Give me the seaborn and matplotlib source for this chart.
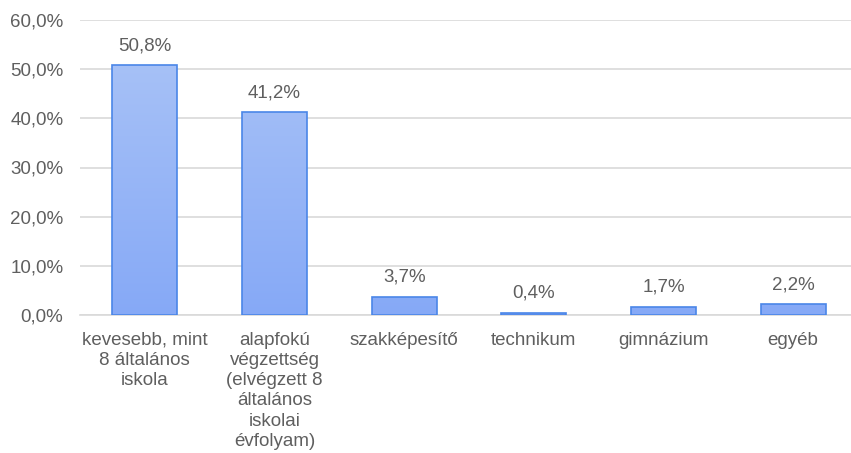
import numpy as np
import pandas as pd
import matplotlib
matplotlib.use("Agg")
import matplotlib.pyplot as plt
import seaborn as sns

# ==========================================================
# Data
# ==========================================================

categories = [
    "kevesebb, mint\n8 általános\niskola",
    "alapfokú\nvégzettség\n(elvégzett 8\náltalános\niskolai\névfolyam)",
    "szakképesítő",
    "technikum",
    "gimnázium",
    "egyéb",
]
values = [50.8, 41.2, 3.7, 0.4, 1.7, 2.2]
y_ticks = [0, 10, 20, 30, 40, 50, 60]

df = pd.DataFrame({"cat": categories, "val": values})

# ==========================================================
# Style
# ==========================================================

sns.set_theme(style="white")
plt.rcParams["font.family"] = ["Liberation Sans", "DejaVu Sans"]

text_color = "#5f5f5f"
grid_color = "#d9d9d9"
edge_color = "#4a86e8"
font_size = 13.5

fig = plt.figure(figsize=(8.51, 4.53), dpi=100)
ax = fig.add_axes([80 / 851, 138 / 453, 778 / 851, 295 / 453])

sns.barplot(
    data=df,
    x="cat",
    y="val",
    width=0.5,
    color="#9bb8f7",
    edgecolor=edge_color,
    linewidth=1.2,
    ax=ax,
    zorder=3,
)

# gradient fill in the bars
grad = np.linspace(0, 1, 256).reshape(-1, 1)
cmap = matplotlib.colors.LinearSegmentedColormap.from_list(
    "bar_grad", ["#86a9f6", "#acc5f7"]
)
for p in ax.patches:
    x0 = p.get_x()
    w = p.get_width()
    im = ax.imshow(
        grad,
        cmap=cmap,
        aspect="auto",
        origin="lower",
        extent=[x0, x0 + w, 0, 60],
        zorder=3.5,
    )
    im.set_clip_path(p)
    p.set_facecolor("none")
    p.set_zorder(4)

ax.set_xlim(-0.5, len(categories) - 0.5)
ax.set_ylim(0, 60)
ax.set_yticks(y_ticks)
ax.set_yticklabels([f"{t:.1f}%".replace(".", ",") for t in y_ticks])

ax.yaxis.grid(True, color=grid_color, linewidth=1.2, zorder=0)
ax.xaxis.grid(False)
for s in ["top", "right", "left"]:
    ax.spines[s].set_visible(False)
ax.spines["bottom"].set_color(grid_color)
ax.spines["bottom"].set_linewidth(1.2)

ax.tick_params(axis="both", length=0, labelsize=font_size, labelcolor=text_color)
ax.tick_params(axis="y", pad=12)
ax.tick_params(axis="x", pad=12)
for lbl in ax.get_xticklabels():
    lbl.set_linespacing(1.25)

ax.set_xlabel("")
ax.set_ylabel("")

for i, v in enumerate(values):
    ax.annotate(
        f"{v:.1f}%".replace(".", ","),
        (i, v),
        xytext=(0, 8),
        textcoords="offset points",
        ha="center",
        va="bottom",
        fontsize=font_size,
        color=text_color,
        zorder=5,
    )

fig.savefig("out.png", dpi=100)
